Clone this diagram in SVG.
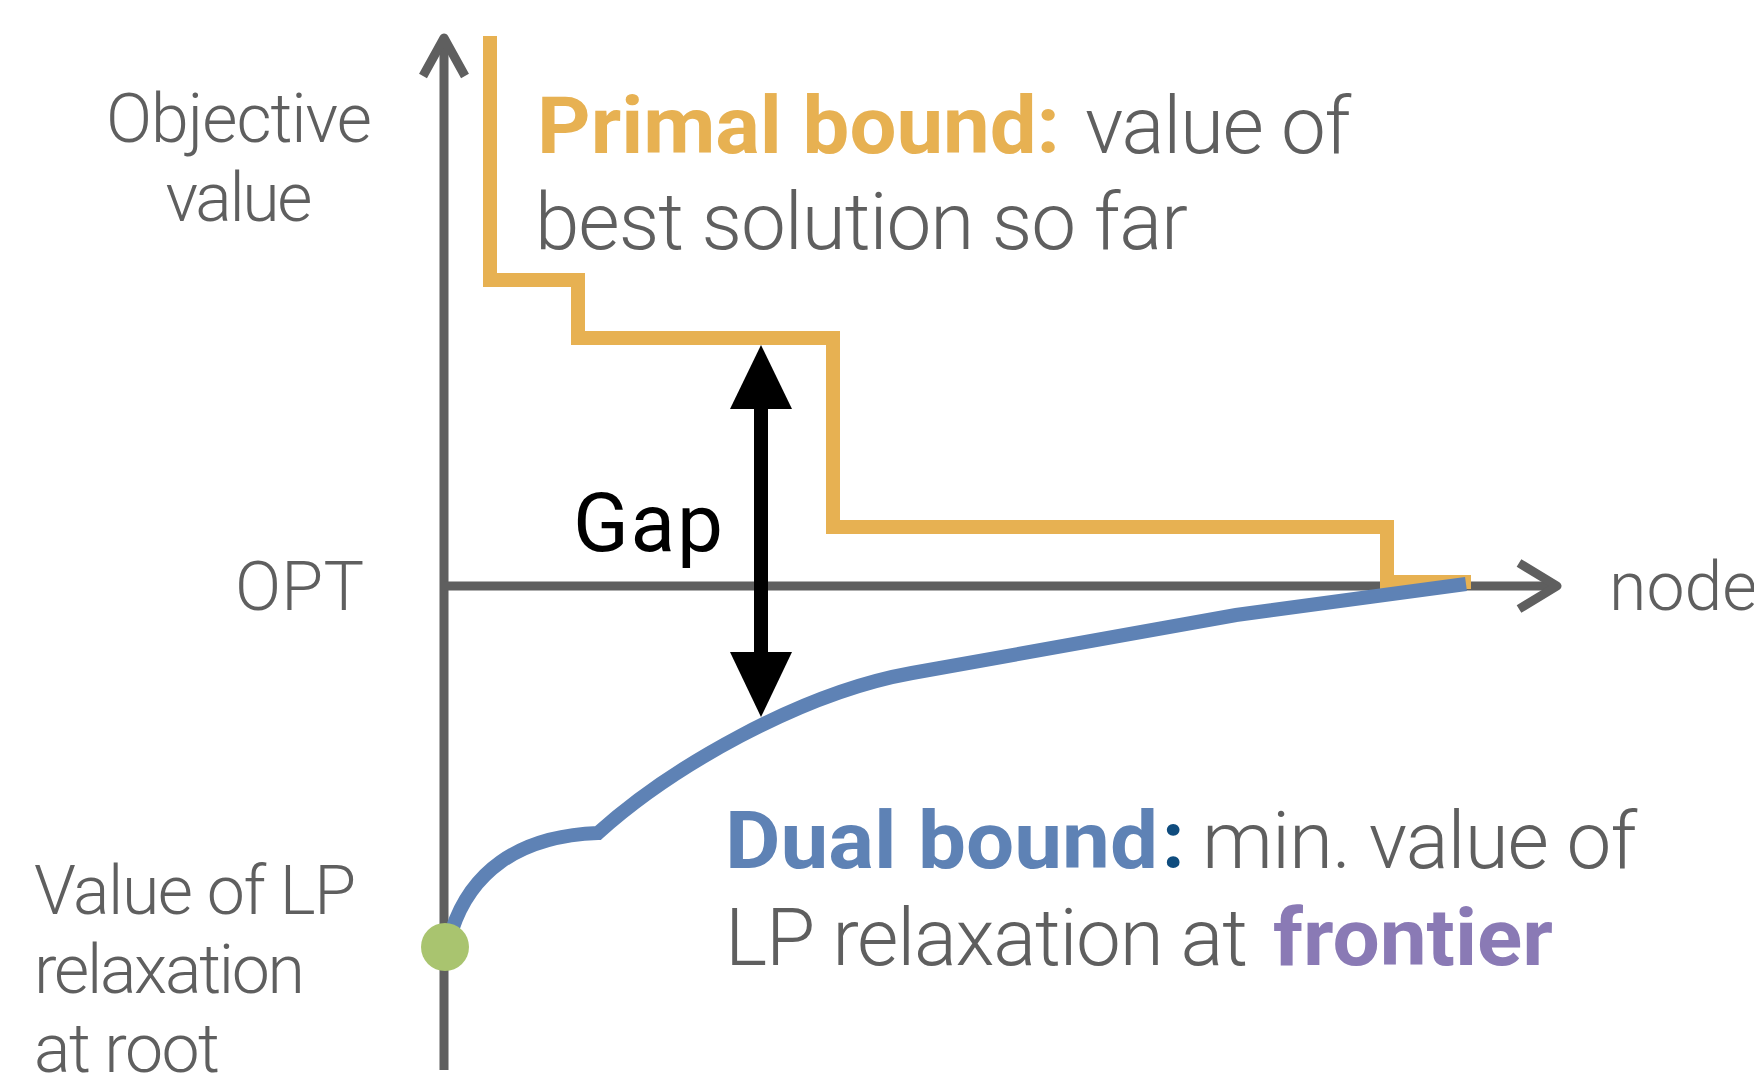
<svg xmlns="http://www.w3.org/2000/svg" width="1754" height="1088" viewBox="0 0 1754 1088">
<style>
.lt{font-family:"Roboto","Inter","Liberation Sans",sans-serif;font-weight:300;fill:#5f5f5f}
.bd{font-family:"Roboto","Inter","Liberation Sans",sans-serif;font-weight:700}
.axis{stroke:#5f5f5f;stroke-width:9;fill:none}
</style>
<rect width="1754" height="1088" fill="#ffffff"/>
<g id="connectors">
  <g id="axes">
    <line class="axis" x1="444" y1="40" x2="444" y2="1070"/>
    <polyline class="axis" points="423,76 444,38 465,76" stroke-linejoin="round"/>
    <line class="axis" x1="444" y1="586" x2="1555" y2="586"/>
    <polyline class="axis" points="1519,563 1557,586 1519,609" stroke-linejoin="round"/>
  </g>
  <path id="primal" d="M490,36 V280 H578 V338 H833 V527 H1387 V582 H1471" fill="none" stroke="#e7b152" stroke-width="14"/>
  <path id="dual" d="M452,930 C470,875 515,836 598,833 C670,768 800,693 912,673 L1236,615 L1466,584" fill="none" stroke="#5e82b5" stroke-width="14"/>
  <g id="gap-arrow" fill="#000">
    <rect x="754" y="400" width="14" height="258"/>
    <polygon points="761,345 792,409 730,409"/>
    <polygon points="730,652 792,652 761,717"/>
  </g>
</g>
<g id="root-node"><circle cx="445" cy="947" r="24" fill="#a9c46f"/></g>
<g id="labels">
  <text class="lt" font-size="68" x="239" y="142" text-anchor="middle" textLength="266">Objective</text>
  <text class="lt" font-size="68" x="239" y="221" text-anchor="middle" textLength="147">value</text>
  <text class="lt" font-size="68" x="235" y="610" textLength="129">OPT</text>
  <text class="lt" font-size="68" x="1609" y="610">node</text>
  <text class="lt" font-size="68" x="34" y="914" textLength="322">Value of LP</text>
  <text class="lt" font-size="68" x="34" y="993" textLength="271">relaxation</text>
  <text class="lt" font-size="68" x="34" y="1072" textLength="186">at root</text>
  <text font-family="Roboto,'Liberation Sans',sans-serif" font-size="82" x="573" y="551" textLength="150" fill="#000">Gap</text>
</g>
<g id="primal-label">
  <text class="bd" font-size="80" x="537" y="153" textLength="523" lengthAdjust="spacingAndGlyphs" fill="#e7b152">Primal bound:</text>
  <text class="lt" font-size="80" x="1085" y="153" textLength="266">value of</text>
  <text class="lt" font-size="80" x="535" y="249" textLength="653">best solution so far</text>
</g>
<g id="dual-label">
  <text class="bd" font-size="80" x="725" y="868" textLength="433" lengthAdjust="spacingAndGlyphs" fill="#5e82b5">Dual bound</text>
  <text class="bd" font-size="80" x="1162" y="868" fill="#0f4c7e">:</text>
  <text class="lt" font-size="80" x="1202" y="868" textLength="435">min. value of</text>
  <text class="lt" font-size="80" x="725" y="965" textLength="523">LP relaxation at</text>
  <text class="bd" font-size="80" x="1273" y="965" textLength="280" lengthAdjust="spacingAndGlyphs" fill="#8a7ab5">frontier</text>
</g>
</svg>
